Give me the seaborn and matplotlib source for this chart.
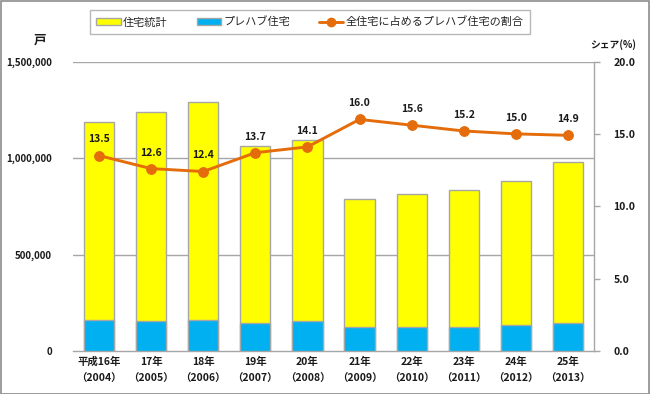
import numpy as np
import pandas as pd
import matplotlib
matplotlib.use("Agg")
import matplotlib.pyplot as plt
import seaborn as sns
from matplotlib.patches import Patch, Rectangle
from matplotlib.lines import Line2D
from matplotlib.ticker import FuncFormatter, FixedLocator

categories = ["平成16年\n（2004）", "17年\n（2005）", "18年\n（2006）", "19年\n（2007）",
              "20年\n（2008）", "21年\n（2009）", "22年\n（2010）", "23年\n（2011）",
              "24年\n（2012）", "25年\n（2013）"]
total_starts = [1189049, 1236175, 1290391, 1060741, 1093519, 788410, 813126, 834117, 882797, 980025]
prefab_starts = [160500, 155800, 160000, 145300, 154200, 126100, 126800, 126800, 132400, 146000]
share_pct = [13.5, 12.6, 12.4, 13.7, 14.1, 16.0, 15.6, 15.2, 15.0, 14.9]

sns.set_theme(style="white")
plt.rcParams['font.family'] = ['Noto Sans CJK JP', 'DejaVu Sans']

YELLOW = "#FFFF00"
BLUE = "#00B0F0"
ORANGE = "#E46C0A"
EDGE = "#A6A6A6"
GRID = "#A6A6A6"
TXT = "#1a1a1a"

fig = plt.figure(figsize=(6.5, 3.94), dpi=100)
ax = fig.add_axes([73/650, 1-351/394, (594-73)/650, (351-61.5)/394])

df = pd.DataFrame({"cat": categories, "total": total_starts, "prefab": prefab_starts, "share": share_pct})

sns.barplot(data=df, x="cat", y="total", color=YELLOW, saturation=1, width=0.58,
            edgecolor=EDGE, linewidth=1.0, ax=ax, zorder=3)
sns.barplot(data=df, x="cat", y="prefab", color=BLUE, saturation=1, width=0.58,
            edgecolor=EDGE, linewidth=1.0, ax=ax, zorder=4)

ax.set_xlim(-0.5, len(categories) - 0.5)
ax.set_ylim(0, 1500000)
ax.yaxis.set_major_locator(FixedLocator([0, 500000, 1000000, 1500000]))
ax.yaxis.set_major_formatter(FuncFormatter(lambda v, p: f"{int(v):,}"))
for yv in [500000, 1000000, 1500000]:
    ax.axhline(yv, color=GRID, linewidth=1.0, zorder=1)
ax.set_xlabel("")
ax.set_ylabel("")
for s in ["top", "left", "right"]:
    ax.spines[s].set_visible(False)
ax.spines["bottom"].set_color(GRID)
ax.spines["bottom"].set_linewidth(1.0)
ax.tick_params(axis="y", length=0, pad=15, labelsize=7, colors=TXT)
ax.tick_params(axis="x", length=0, pad=4, labelsize=7.5, colors=TXT)
for lbl in ax.get_yticklabels() + ax.get_xticklabels():
    lbl.set_fontweight("bold")
for lbl in ax.get_xticklabels():
    lbl.set_linespacing(1.9)

ax2 = ax.twinx()
x = np.arange(len(categories))
sns.lineplot(x=x, y=share_pct, ax=ax2, color=ORANGE, linewidth=2.1, marker="o",
             markersize=7, markeredgecolor=ORANGE, zorder=5)
ax2.set_ylim(0, 20)
ax2.set_xlim(-0.5, len(categories) - 0.5)
ax2.yaxis.set_major_locator(FixedLocator([0, 5, 10, 15, 20]))
ax2.yaxis.set_major_formatter(FuncFormatter(lambda v, p: f"{v:.1f}"))
ax2.set_ylabel("")
for s in ["top", "left", "bottom"]:
    ax2.spines[s].set_visible(False)
ax2.spines["right"].set_color(GRID)
ax2.spines["right"].set_linewidth(1.0)
ax2.tick_params(axis="y", length=4, width=1, color=GRID, pad=10, labelsize=7.5, colors=TXT, direction="out")
for lbl in ax2.get_yticklabels():
    lbl.set_fontweight("bold")
ax2.patch.set_visible(False)

for xi, v in zip(x, share_pct):
    ax2.annotate(f"{v:.1f}", (xi, v), xytext=(0, 8), textcoords="offset points",
                 ha="center", va="bottom", fontsize=7.5, fontweight="bold", color=TXT)

fig.text(40/650, 1-40/394, "戸", fontsize=9, fontweight="bold", color=TXT, ha="center", va="center")
fig.text(613/650, 1-45/394, "シェア(%)", fontsize=7, fontweight="bold", color=TXT, ha="center", va="center")

handles = [Patch(facecolor=YELLOW, edgecolor=EDGE, label="住宅統計"),
           Patch(facecolor=BLUE, edgecolor=EDGE, label="プレハブ住宅"),
           Line2D([0], [0], color=ORANGE, linewidth=2.1, marker="o", markersize=6, label="全住宅に占めるプレハブ住宅の割合")]
leg = fig.legend(handles=handles, loc="center", bbox_to_anchor=(310/650, 1-22/394), ncol=3,
                 fontsize=8, frameon=True, fancybox=False, edgecolor="#A6A6A6",
                 handlelength=2.2, handleheight=0.7, columnspacing=2.6, handletextpad=0.2,
                 borderpad=0.55)
leg.get_frame().set_linewidth(1.0)

fig.patches.append(Rectangle((0.001, 0.001), 0.997, 0.997, transform=fig.transFigure,
                             fill=False, edgecolor="#8c8c8c", linewidth=1.2))

fig.savefig("out.png", dpi=100)
